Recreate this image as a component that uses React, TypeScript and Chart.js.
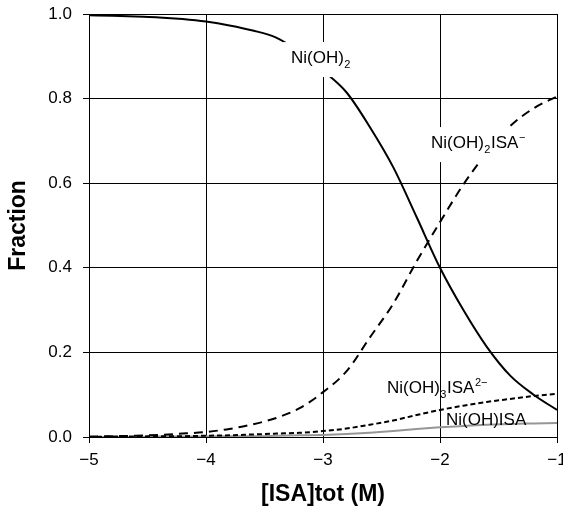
import React, { useEffect, useRef } from "react";
import { Chart, registerables } from "chart.js";

Chart.register(...registerables);

// log10 of total ISA concentration (M)
const logIsa = [-5.0, -4.8, -4.6, -4.4, -4.2, -4.0, -3.8, -3.6, -3.4, -3.2, -3.0, -2.8, -2.6, -2.4, -2.2, -2.0, -1.8, -1.6, -1.4, -1.2, -1.0];

// species fractions
const niOH2 = [0.997, 0.996, 0.994, 0.992, 0.988, 0.982, 0.973, 0.961, 0.944, 0.910, 0.866, 0.815, 0.733, 0.638, 0.520, 0.400, 0.300, 0.213, 0.145, 0.100, 0.064];
const niOH2Isa = [0.001, 0.002, 0.003, 0.005, 0.008, 0.012, 0.019, 0.030, 0.045, 0.068, 0.106, 0.155, 0.235, 0.315, 0.415, 0.508, 0.597, 0.672, 0.735, 0.777, 0.805];
const niOH3Isa = [0.000, 0.001, 0.001, 0.002, 0.002, 0.003, 0.004, 0.006, 0.008, 0.010, 0.014, 0.020, 0.029, 0.039, 0.052, 0.064, 0.074, 0.083, 0.090, 0.097, 0.102];
const niOHIsa = [0.000, 0.000, 0.000, 0.001, 0.001, 0.001, 0.002, 0.002, 0.003, 0.004, 0.005, 0.007, 0.010, 0.014, 0.019, 0.023, 0.026, 0.029, 0.031, 0.032, 0.033];

const xTicks = [-5, -4, -3, -2, -1];
const yTicks = [0, 0.2, 0.4, 0.6, 0.8, 1.0];

type Part = { t: string; k: "n" | "sub" | "sup" };
type Note = { parts: Part[]; x: number; y: number; box: boolean };

// species labels, anchored at left/baseline in data units
const notes: Note[] = [
  { parts: [{ t: "Ni(OH)", k: "n" }, { t: "2", k: "sub" }], x: -3.274, y: 0.884, box: true },
  { parts: [{ t: "Ni(OH)", k: "n" }, { t: "2", k: "sub" }, { t: "ISA", k: "n" }, { t: "\u2212", k: "sup" }], x: -2.077, y: 0.683, box: true },
  { parts: [{ t: "Ni(OH)", k: "n" }, { t: "3", k: "sub" }, { t: "ISA", k: "n" }, { t: "2\u2212", k: "sup" }], x: -2.453, y: 0.104, box: false },
  { parts: [{ t: "Ni(OH)ISA", k: "n" }], x: -1.949, y: 0.028, box: false },
];

const FONT = '"Liberation Sans", Arial, Helvetica, sans-serif';
const minus = (v: number) => (v < 0 ? "\u2212" + Math.abs(v) : String(v));

const notesPlugin = {
  id: "speciesNotes",
  afterDatasetsDraw(chart: any) {
    const ctx = chart.ctx as CanvasRenderingContext2D;
    const xs = chart.scales.x;
    const ys = chart.scales.y;
    ctx.save();
    ctx.textBaseline = "alphabetic";
    ctx.textAlign = "left";
    for (const n of notes) {
      const x0 = xs.getPixelForValue(n.x);
      const base = ys.getPixelForValue(n.y);
      // measure
      let w = 0;
      for (const p of n.parts) {
        ctx.font = (p.k === "n" ? "17px " : "11px ") + FONT;
        w += ctx.measureText(p.t).width + (p.k === "n" ? 0 : 1);
      }
      if (n.box) {
        ctx.fillStyle = "#ffffff";
        ctx.fillRect(x0 - 8, base - 21, w + 14, 35);
      }
      let x = x0;
      ctx.fillStyle = "#000000";
      for (const p of n.parts) {
        if (p.k === "n") {
          ctx.font = "17px " + FONT;
          ctx.fillText(p.t, x, base);
          x += ctx.measureText(p.t).width;
        } else {
          ctx.font = "11px " + FONT;
          const dy = p.k === "sub" ? 5 : -7;
          ctx.fillText(p.t, x + 0.5, base + dy);
          x += ctx.measureText(p.t).width + 1;
        }
      }
    }
    ctx.restore();
  },
};

export default function App() {
  const ref = useRef<HTMLCanvasElement | null>(null);

  useEffect(() => {
    if (!ref.current) return;
    const pts = (ys: number[]) => logIsa.map((x, i) => ({ x, y: ys[i] }));
    const chart = new Chart(ref.current, {
      type: "line",
      data: {
        datasets: [
          { label: "Ni(OH)2", data: pts(niOH2), borderColor: "#000000", borderWidth: 2 },
          { label: "Ni(OH)2ISA-", data: pts(niOH2Isa), borderColor: "#000000", borderWidth: 2, borderDash: [9, 6] },
          { label: "Ni(OH)3ISA2-", data: pts(niOH3Isa), borderColor: "#000000", borderWidth: 2, borderDash: [5, 3] },
          { label: "Ni(OH)ISA", data: pts(niOHIsa), borderColor: "#969696", borderWidth: 2 },
        ],
      },
      options: {
        animation: false,
        responsive: true,
        maintainAspectRatio: false,
        parsing: false as any,
        layout: { padding: { top: 14, right: 6, left: 0, bottom: 0 } },
        elements: {
          point: { radius: 0, hoverRadius: 0 },
          line: { cubicInterpolationMode: "monotone", fill: false },
        },
        plugins: { legend: { display: false }, tooltip: { enabled: false } },
        scales: {
          x: {
            type: "linear",
            min: -5,
            max: -1,
            afterBuildTicks: (s: any) => { s.ticks = xTicks.map((v) => ({ value: v })); },
            afterFit: (s: any) => { s.height = 74; s.paddingLeft = 0; s.paddingRight = 0; },
            ticks: {
              color: "#000000",
              padding: 7,
              font: { family: FONT, size: 17 },
              callback: (v: any) => minus(Number(v)),
            },
            grid: { color: "#000000", lineWidth: 1, tickLength: 6 },
            border: { color: "#000000", width: 1 },
            title: {
              display: true,
              text: "[ISA]tot (M)",
              color: "#000000",
              font: { family: FONT, size: 23, weight: "bold", lineHeight: 1.2 },
              padding: { top: 0, bottom: 3 },
            },
          },
          y: {
            type: "linear",
            min: 0,
            max: 1,
            afterBuildTicks: (s: any) => { s.ticks = yTicks.map((v) => ({ value: v })); },
            afterFit: (s: any) => { s.width = 89; s.paddingTop = 0; s.paddingBottom = 0; },
            ticks: {
              color: "#000000",
              padding: 11,
              font: { family: FONT, size: 17 },
              callback: (v: any) => Number(v).toFixed(1),
            },
            grid: { color: "#000000", lineWidth: 1, tickLength: 6 },
            border: { color: "#000000", width: 1 },
            title: {
              display: true,
              text: "Fraction",
              color: "#000000",
              font: { family: FONT, size: 23, weight: "bold", lineHeight: 1.2 },
              padding: { top: 5, bottom: 0 },
            },
          },
        },
      },
      plugins: [notesPlugin],
    });
    return () => chart.destroy();
  }, []);

  return (
    <div style={{ position: "absolute", left: 0, top: 0, width: 563, height: 511, background: "#ffffff" }}>
      <canvas ref={ref} />
    </div>
  );
}
